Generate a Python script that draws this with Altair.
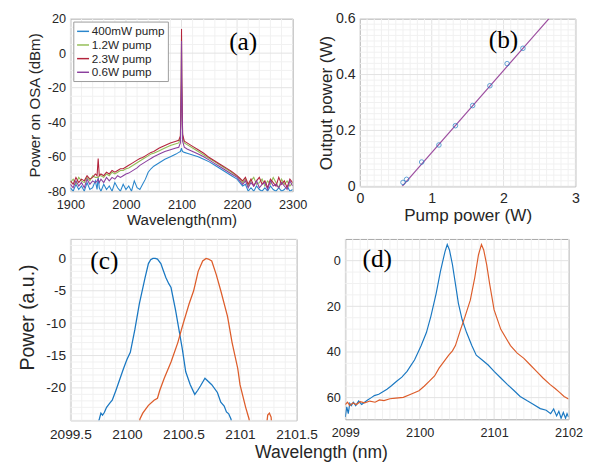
import altair as alt
import pandas as pd
import numpy as np

FONT = "Liberation Sans"
SERIF = "Liberation Serif"
TXT = "#262626"
GRID_MAJOR = "#e2e2e2"
GRID_MINOR = "#f1f1f1"
FRAME = "#a6a6a6"
BLUE = "#1a78c2"
ORANGE = "#dd5d2b"

# ---------------- panel (a): OSA spectra ----------------
a_wl = ([1900, 1905, 1910, 1915, 1920, 1925, 1930, 1935, 1940, 1945]
        + [1948, 1950, 1952]
        + [1955, 1960, 1965, 1970, 1975, 1980, 1985, 1990, 1995, 2000,
           2005, 2010, 2015, 2020, 2025, 2030, 2035, 2040, 2045]
        + [2050, 2060, 2070, 2080, 2090]
        + [2095, 2098, 2099.5, 2100, 2100.5, 2102, 2105]
        + [2110, 2120, 2130, 2140, 2150, 2160, 2170, 2180, 2190]
        + [2200, 2205, 2210, 2215, 2220, 2225, 2230, 2235, 2240, 2245, 2250,
           2255, 2260, 2265, 2270, 2275, 2280, 2285, 2290, 2295, 2300])

a_400mw = ([-78, -80, -76, -79, -77, -80, -75, -79, -78, -74]
           + [-79, -72, -78]
           + [-80, -76, -79, -77, -80, -75, -78, -80, -76, -79,
              -77, -80, -74, -78, -79, -76, -73, -69, -67]
           + [-65.5, -63.5, -61.5, -60, -58.5]
           + [-57.5, -57, -55.5, -55, -56, -57, -57.5]
           + [-58, -59, -60, -61.5, -63, -65, -67, -69, -71]
           + [-73, -75, -77, -76, -80, -78, -80, -77, -79, -80, -78,
              -80, -77, -79, -80, -78, -80, -79, -77, -80, -79])

a_1p2w = ([-75, -73, -76, -72, -74, -75, -72, -74, -71, -72]
          + [-72, -72, -71]
          + [-71, -72, -70, -71, -69, -70, -69, -68, -68, -67,
             -66.5, -65.5, -64.5, -63.5, -62.5, -61.5, -60.5, -59.5, -58.5]
          + [-58, -56.5, -55, -53.5, -52.5]
          + [-52, -49, -18, 10, -18, -48, -52]
          + [-53, -55, -57, -59, -61, -63, -65, -67, -69]
          + [-71.5, -73, -75, -73, -77, -74, -72, -76, -75, -73, -77,
             -74, -76, -72, -75, -78, -73, -76, -74, -77, -75])

a_2p3w = ([-74, -76, -72, -75, -73, -74, -71, -73, -72, -70]
          + [-71, -61, -71]
          + [-70, -71, -69, -70, -68, -69, -68, -67, -67, -66,
             -65, -64, -63, -62, -61, -60.5, -59.5, -58.5, -57.5]
          + [-57, -55, -53.5, -52, -51]
          + [-50.5, -48, -15, 14, -15, -47, -51]
          + [-52, -54, -56, -58, -60.5, -62.5, -64.5, -66.5, -68.5]
          + [-71, -72.5, -74, -72, -76, -73, -77, -74, -72, -76, -74,
             -78, -73, -75, -77, -72, -76, -74, -78, -73, -75])

a_0p6w = ([-76, -78, -74, -77, -75, -78, -73, -76, -74, -75]
          + [-74, -73, -75]
          + [-73, -75, -72, -74, -72, -73, -71, -72, -71, -70,
             -69.5, -68.5, -67.5, -66.5, -65, -64, -63, -62, -61]
          + [-60, -58.5, -57, -56, -55]
          + [-54.5, -52, -20, 7, -20, -51, -54.5]
          + [-55.5, -57, -58.5, -60, -62, -64, -66, -68, -70]
          + [-72, -74, -76, -74, -78, -75, -77, -74, -78, -76, -75,
             -79, -74, -77, -76, -78, -75, -77, -79, -74, -77])

a_series = ["400mW pump", "1.2W pump", "2.3W pump", "0.6W pump"]
a_colors = ["#2a86cc", "#93bd55", "#b3243c", "#8b3f9e"]
a_xticks = [1900, 2000, 2100, 2200, 2300]
a_yticks = [-80, -60, -40, -20, 0, 20]

# ---------------- panel (b): slope efficiency ----------------
b_pump = [0.60, 0.65, 0.86, 1.10, 1.33, 1.57, 1.81, 2.05, 2.27]
b_out = [0.014, 0.025, 0.087, 0.148, 0.217, 0.289, 0.360, 0.439, 0.494]
b_fit_x = [0.588, 2.633]
b_fit_y = [0.0, 0.6]
b_xticks = [0, 1, 2, 3]
b_yticks = [0, 0.2, 0.4, 0.6]

# ---------------- panel (c) ----------------
c_blue_x = [2099.70, 2099.756, 2099.77, 2099.784, 2099.80, 2099.82, 2099.85, 2099.87,
            2099.90, 2099.93, 2099.97, 2100.00, 2100.03, 2100.07, 2100.11, 2100.16,
            2100.19, 2100.21, 2100.23, 2100.25, 2100.27, 2100.30, 2100.32, 2100.345,
            2100.37, 2100.39, 2100.43, 2100.46, 2100.49, 2100.52, 2100.56, 2100.60,
            2100.625, 2100.65, 2100.69, 2100.72, 2100.75, 2100.80, 2100.83, 2100.86,
            2100.88, 2100.90, 2100.92, 2100.95]
c_blue_y = [-28, -24.8, -23.9, -24.2, -23.8, -23.0, -22.3, -21.9,
            -20.5, -19, -17, -15.6, -14.5, -11, -7, -3,
            -0.8, -0.2, 0, 0, -0.1, -0.8, -1.8, -3,
            -3.9, -4.5, -8, -11, -14, -17.5, -19.5, -21,
            -20.4, -19.7, -18.5, -19.0, -19.5, -20.7, -22.2, -22.8,
            -23.7, -24.0, -24.8, -28]
c_orange_x = [2100.09, 2100.115, 2100.14, 2100.19, 2100.24, 2100.27, 2100.29, 2100.33,
              2100.39, 2100.45, 2100.49, 2100.55, 2100.59, 2100.63, 2100.67, 2100.70,
              2100.72, 2100.75, 2100.79, 2100.83, 2100.89, 2100.93, 2100.98, 2101.00,
              2101.05, 2101.08, 2101.10, 2101.22, 2101.245, 2101.26, 2101.275, 2101.29]
c_orange_y = [-28, -24.8, -23.9, -22.7, -21.9, -21.6, -20.4, -18.5,
              -16, -13, -10.5, -7, -5, -2, -0.4, 0,
              -0.1, -0.4, -2.5, -5, -9, -13, -17, -19.5,
              -23, -24.8, -28, -28, -24.2, -23.9, -24.5, -28]
c_xticks = [2099.5, 2100, 2100.5, 2101, 2101.5]
c_yticks = [-20, -15, -10, -5, 0]

# ---------------- panel (d) ----------------
d_blue_x = [2099.00, 2099.02, 2099.04, 2099.06, 2099.08, 2099.11, 2099.14, 2099.18,
            2099.22, 2099.26, 2099.30, 2099.35, 2099.39, 2099.45, 2099.50, 2099.56,
            2099.62, 2099.69, 2099.76, 2099.83, 2099.88, 2099.93, 2099.98, 2100.02,
            2100.09, 2100.15, 2100.22, 2100.28, 2100.34, 2100.37, 2100.40, 2100.44,
            2100.48, 2100.52, 2100.57, 2100.63, 2100.70, 2100.76, 2100.84, 2100.92,
            2101.00, 2101.09, 2101.18, 2101.27, 2101.35, 2101.44, 2101.53, 2101.62,
            2101.70, 2101.76, 2101.80, 2101.84, 2101.87, 2101.90, 2101.93, 2101.96,
            2101.98, 2102.00]
d_blue_y = [68.5, 64, 67, 62.5, 63.5, 62, 63.5, 61.5,
            63, 62, 61, 60, 59.1, 58.5, 57.5, 56.3,
            54.8, 52.8, 51, 48.5, 46, 43.5, 40, 37.2,
            31.5, 24.4, 14.5, 4.5, -4, -7.1, -4.7, 1.7,
            10.2, 18.7, 25.8, 31.5, 37.2, 41.4, 43.5, 45.7,
            48.5, 51.4, 54.3, 57, 59.5, 61.3, 63, 64.8,
            65.5, 67, 65, 68, 66, 69, 66.5, 69,
            67, 68.5]
d_orange_x = [2099.00, 2099.03, 2099.06, 2099.10, 2099.15, 2099.20, 2099.26, 2099.33,
              2099.40, 2099.46, 2099.52, 2099.60, 2099.68, 2099.78, 2099.88, 2099.99,
              2100.06, 2100.13, 2100.20, 2100.26, 2100.33, 2100.39, 2100.44, 2100.48,
              2100.55, 2100.61, 2100.68, 2100.74, 2100.79, 2100.83, 2100.86, 2100.90,
              2100.94, 2101.00, 2101.09, 2101.22, 2101.31, 2101.40, 2101.48, 2101.57,
              2101.66, 2101.75, 2101.82, 2101.88, 2101.94, 2102.00]
d_orange_y = [63, 62, 63.5, 62.3, 63, 61.8, 62.3, 61.5,
              62, 61, 61.3, 60.5, 60.2, 59.9, 58.5, 57,
              55, 52.8, 50.5, 47.1, 44, 41.4, 39.5, 37.2,
              30.1, 24.4, 17.3, 7.4, -2.6, -7.1, -4.7, 1.7,
              10.2, 21.6, 30.1, 37.2, 40.5, 42.8, 45.5, 48.5,
              51.5, 54.2, 56, 57.7, 59.5, 60.6]
d_xticks = [2099, 2100, 2101, 2102]
d_yticks = [0, 20, 40, 60]


def minor_values(lo, hi, step, majors):
    vals = np.round(np.arange(lo, hi + step / 2, step), 6)
    return [float(v) for v in vals if not any(abs(v - m) < 1e-9 for m in majors)]


def grids(xsc, ysc, xax, yax, xminor, yminor, xmajor, ymajor):
    out = []
    for vals, col in ((xminor, GRID_MINOR), (xmajor, GRID_MAJOR)):
        out.append(alt.Chart(pd.DataFrame({"g": vals})).mark_rule(color=col, strokeWidth=1)
                   .encode(x=alt.X("g:Q", scale=xsc, axis=xax)))
    for vals, col in ((yminor, GRID_MINOR), (ymajor, GRID_MAJOR)):
        out.append(alt.Chart(pd.DataFrame({"g": vals})).mark_rule(color=col, strokeWidth=1)
                   .encode(y=alt.Y("g:Q", scale=ysc, axis=yax)))
    return out


def xaxis(vals, title, lsize, tsize, lpad, tpad):
    return alt.Axis(values=vals, title=title, grid=False, ticks=False, domain=False,
                    labelFlush=False, labelOverlap=False, labelExpr="'' + datum.value",
                    labelFontSize=lsize, titleFontSize=tsize, labelPadding=lpad,
                    titlePadding=tpad)


def yaxis(vals, title, lsize, tsize, lpad, tpad, **kw):
    return alt.Axis(values=vals, title=title, grid=False, ticks=False, domain=False,
                    labelOverlap=False, labelExpr="'' + datum.value",
                    labelFontSize=lsize, titleFontSize=tsize, labelPadding=lpad,
                    titlePadding=tpad, **kw)


def panel_label(text, x, y, xsc, ysc, xax, yax):
    return alt.Chart(pd.DataFrame({"t": [text], "x": [x], "y": [y]})).mark_text(
        font=SERIF, fontSize=26, color="black", align="center", baseline="middle"
    ).encode(x=alt.X("x:Q", scale=xsc, axis=xax), y=alt.Y("y:Q", scale=ysc, axis=yax),
             text="t:N")


# ---- (a)
a_df = pd.concat([pd.DataFrame({"wl": a_wl, "p": v, "s": n})
                  for n, v in zip(a_series, [a_400mw, a_1p2w, a_2p3w, a_0p6w])])
ax_sc = alt.Scale(domain=[1900, 2300], nice=False, zero=False)
ay_sc = alt.Scale(domain=[-80, 20], nice=False, zero=False)
a_xax = xaxis(a_xticks, "Wavelength(nm)", 13, 15.5, 8, 1)
a_yax = yaxis(a_yticks, "Power on OSA (dBm)", 13, 15.5, 5, 5)
color_sc = alt.Scale(domain=a_series, range=a_colors)
a_layers = grids(ax_sc, ay_sc, a_xax, a_yax, minor_values(1900, 2300, 20, a_xticks),
                 minor_values(-80, 20, 5, a_yticks), a_xticks, a_yticks)
for i, name in enumerate(a_series):
    enc = dict(
        x=alt.X("wl:Q", scale=ax_sc, axis=a_xax),
        y=alt.Y("p:Q", scale=ay_sc, axis=a_yax),
        color=alt.Color("s:N", scale=color_sc, sort=a_series,
                        legend=alt.Legend(orient="top-left", offset=3, title=None,
                                          symbolType="stroke", symbolStrokeWidth=1.5,
                                          symbolSize=150, labelFontSize=12, labelFont=FONT,
                                          labelColor=TXT, fillColor="white",
                                          strokeColor="#9a9a9a", padding=3, rowPadding=1,
                                          labelOffset=2, columns=1)),
        order=alt.Order("wl:Q"),
    )
    a_layers.append(alt.Chart(a_df).transform_filter(alt.datum.s == name)
                    .mark_line(strokeWidth=1.1, clip=True).encode(**enc))
a_layers.append(panel_label("(a)", 2211, 6.2, ax_sc, ay_sc, a_xax, a_yax))
pa = alt.layer(*a_layers).properties(width=228, height=177)

# ---- (b)
bx_sc = alt.Scale(domain=[0, 3], nice=False, zero=False)
by_sc = alt.Scale(domain=[0, 0.6], nice=False, zero=False)
b_xax = xaxis(b_xticks, "Pump power (W)", 14.5, 17.5, 6, 2)
b_yax = yaxis(b_yticks, "Output power (W)", 14.5, 17.5, 5, 0)
b_layers = grids(bx_sc, by_sc, b_xax, b_yax, minor_values(0, 3, 0.1, b_xticks),
                 minor_values(0, 0.6, 0.02, b_yticks), b_xticks, b_yticks)
b_layers.append(alt.Chart(pd.DataFrame({"x": b_fit_x, "y": b_fit_y}))
                .mark_line(color="#9c4d9f", strokeWidth=1.2, clip=True)
                .encode(x=alt.X("x:Q", scale=bx_sc, axis=b_xax),
                        y=alt.Y("y:Q", scale=by_sc, axis=b_yax)))
b_layers.append(alt.Chart(pd.DataFrame({"x": b_pump, "y": b_out}))
                .mark_point(shape="circle", filled=False, size=22, color=BLUE, strokeWidth=1)
                .encode(x=alt.X("x:Q", scale=bx_sc, axis=b_xax),
                        y=alt.Y("y:Q", scale=by_sc, axis=b_yax)))
b_layers.append(panel_label("(b)", 2.0, 0.524, bx_sc, by_sc, b_xax, b_yax))
# invisible layout anchor that widens the upper row's bounds a little to the right
b_layers.append(alt.Chart(pd.DataFrame({"x": [3.163], "y": [0.3]}))
                .mark_point(opacity=0, size=2, filled=True)
                .encode(x=alt.X("x:Q", scale=bx_sc, axis=b_xax),
                        y=alt.Y("y:Q", scale=by_sc, axis=b_yax)))
pb = alt.layer(*b_layers).properties(width=221, height=172)

# ---- (c)
cx_sc = alt.Scale(domain=[2099.5, 2101.5], nice=False, zero=False)
cy_sc = alt.Scale(domain=[-25, 3], nice=False, zero=False)
c_xax = xaxis(c_xticks, None, 14, 14, 8, 2)
c_yax = yaxis(c_yticks, "Power (a.u.)", 14, 20, 5, 9, titleY=80)
c_layers = grids(cx_sc, cy_sc, c_xax, c_yax, minor_values(2099.5, 2101.5, 0.1, c_xticks),
                 minor_values(-25, 3, 1, c_yticks), c_xticks, c_yticks)
c_layers.append(alt.Chart(pd.DataFrame({"x": c_blue_x, "y": c_blue_y}))
                .mark_line(color=BLUE, strokeWidth=1.3, clip=True)
                .encode(x=alt.X("x:Q", scale=cx_sc, axis=c_xax),
                        y=alt.Y("y:Q", scale=cy_sc, axis=c_yax),
                        order=alt.Order("x:Q")))
c_layers.append(alt.Chart(pd.DataFrame({"x": c_orange_x, "y": c_orange_y}))
                .mark_line(color=ORANGE, strokeWidth=1.3, clip=True)
                .encode(x=alt.X("x:Q", scale=cx_sc, axis=c_xax),
                        y=alt.Y("y:Q", scale=cy_sc, axis=c_yax),
                        order=alt.Order("x:Q")))
c_layers.append(panel_label("(c)", 2099.80, -0.45, cx_sc, cy_sc, c_xax, c_yax))
pc = alt.layer(*c_layers).properties(width=232, height=186)

# ---- (d)
dx_sc = alt.Scale(domain=[2099, 2102], nice=False, zero=False)
dy_sc = alt.Scale(domain=[-9.5, 69.5], nice=False, zero=False, reverse=True)
d_xax = xaxis(d_xticks, None, 13, 13, 8, 2)
d_yax = yaxis(d_yticks, None, 13, 13, 5, 2)
d_layers = grids(dx_sc, dy_sc, d_xax, d_yax, minor_values(2099, 2102, 0.1, d_xticks),
                 minor_values(-5, 65, 5, d_yticks), d_xticks, d_yticks)
d_layers.append(alt.Chart(pd.DataFrame({"x": d_blue_x, "y": d_blue_y}))
                .mark_line(color=BLUE, strokeWidth=1.2, clip=True)
                .encode(x=alt.X("x:Q", scale=dx_sc, axis=d_xax),
                        y=alt.Y("y:Q", scale=dy_sc, axis=d_yax),
                        order=alt.Order("x:Q")))
d_layers.append(alt.Chart(pd.DataFrame({"x": d_orange_x, "y": d_orange_y}))
                .mark_line(color=ORANGE, strokeWidth=1.2, clip=True)
                .encode(x=alt.X("x:Q", scale=dx_sc, axis=d_xax),
                        y=alt.Y("y:Q", scale=dy_sc, axis=d_yax),
                        order=alt.Order("x:Q")))
d_layers.append(panel_label("(d)", 2099.43, -0.85, dx_sc, dy_sc, d_xax, d_yax))
pd_ = alt.layer(*d_layers).properties(width=229, height=185)

top = alt.hconcat(pa, pb, spacing=10, center=False)
bottom = alt.hconcat(pc, pd_, spacing=8, center=False).properties(
    title=alt.TitleParams("Wavelength (nm)", orient="bottom", anchor="middle", fontSize=18,
                          font=FONT, fontWeight="normal", color=TXT, offset=2, dx=22))

chart = (alt.vconcat(top, bottom, spacing=10, center=False)
         .properties(padding={"left": 9, "top": -4, "right": 0, "bottom": 0},
                     background="white")
         .configure_view(stroke=FRAME, strokeWidth=1)
         .configure_axis(labelFont=FONT, titleFont=FONT, labelColor=TXT, titleColor=TXT,
                         titleFontWeight="normal")
         .configure_legend(labelFont=FONT))

chart.save("out.html", embed_options={"renderer": "svg", "actions": False})
